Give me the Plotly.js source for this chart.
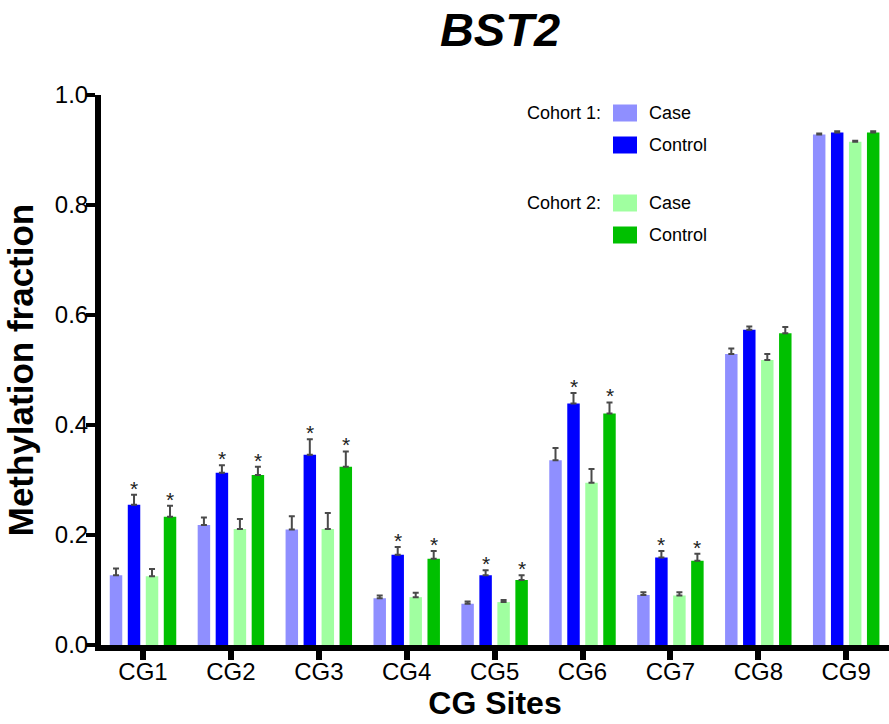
<!DOCTYPE html>
<html>
<head>
<meta charset="utf-8">
<script src="https://cdn.plot.ly/plotly-3.0.1.min.js"></script>
<style>html,body{margin:0;padding:0;background:#fff;}#chart{width:889px;height:724px;}</style>
</head>
<body>
<div id="chart"></div>
<script>
// ---- data ----
const categories = ["CG1","CG2","CG3","CG4","CG5","CG6","CG7","CG8","CG9"];
const seriesNames = ["Case","Control","Case","Control"];
const cohortLabels = ["Cohort 1:","Cohort 2:"];
const cohort1Case      = [0.127, 0.218, 0.210, 0.085, 0.075, 0.336, 0.091, 0.529, 0.928];
const cohort1CaseErr   = [0.012, 0.014, 0.024, 0.005, 0.004, 0.022, 0.005, 0.010, 0.002];
const cohort1Control   = [0.255, 0.313, 0.346, 0.164, 0.127, 0.439, 0.159, 0.573, 0.932];
const cohort1ControlErr= [0.018, 0.014, 0.028, 0.014, 0.009, 0.019, 0.012, 0.006, 0.002];
const cohort2Case      = [0.125, 0.211, 0.211, 0.087, 0.078, 0.295, 0.090, 0.518, 0.915];
const cohort2CaseErr   = [0.013, 0.018, 0.029, 0.008, 0.004, 0.025, 0.006, 0.011, 0.002];
const cohort2Control   = [0.233, 0.309, 0.324, 0.157, 0.118, 0.421, 0.153, 0.567, 0.932];
const cohort2ControlErr= [0.020, 0.015, 0.028, 0.014, 0.009, 0.020, 0.013, 0.011, 0.002];
const significant = [true, true, true, true, true, true, true, false, false];
const yTicks = [0, 0.2, 0.4, 0.6, 0.8, 1.0];
const colors = ["#8F8FFF", "#0000FF", "#A0FFA0", "#00C000"];

// ---- layout geometry ----
const FONT = "Liberation Sans, Arial, Helvetica, sans-serif";
const W = 889, H = 724;
const M = {l: 101, r: 0, t: 95, b: 79};
const PW = W - M.l - M.r, PH = H - M.t - M.b;
const BARGAP = 0.181, BARGROUPGAP = 0.307;
const slot = (1 - BARGAP) / 4;

const values = [cohort1Case, cohort1Control, cohort2Case, cohort2Control];
const errs = [cohort1CaseErr, cohort1ControlErr, cohort2CaseErr, cohort2ControlErr];

const traces = values.map((v, k) => ({
  type: "bar",
  x: categories,
  y: v,
  name: seriesNames[k],
  marker: {color: colors[k], line: {width: 0}},
  error_y: {type: "data", symmetric: false, array: errs[k], arrayminus: v.map(() => 0),
            color: "#4a4a4a", thickness: 2, width: 3},
  showlegend: false,
  hoverinfo: "x+y"
}));

// significance stars above control bars (traces 1 and 3)
const annotations = [];
[1, 3].forEach(k => {
  categories.forEach((c, i) => {
    if (!significant[i]) return;
    annotations.push({
      xref: "x", yref: "y",
      x: i + (k - 1.5) * slot,
      y: values[k][i] + errs[k][i],
      text: "*", showarrow: false,
      yanchor: "bottom", xanchor: "center", yshift: -7,
      font: {family: FONT, size: 21, color: "#222"}
    });
  });
});

// custom legend (paper coords derived from pixel layout)
const px = x => (x - M.l) / PW;
const py = y => (H - M.b - y) / PH;
const legendRows = [113, 145, 203, 235];
const shapes = [];
legendRows.forEach((ry, k) => {
  shapes.push({type: "rect", xref: "paper", yref: "paper",
    x0: px(613), x1: px(637), y0: py(ry + 8.5), y1: py(ry - 8.5),
    fillcolor: colors[k], line: {width: 0}});
  annotations.push({xref: "paper", yref: "paper", x: px(647), y: py(ry),
    xanchor: "left", yanchor: "middle", showarrow: false, text: seriesNames[k],
    font: {family: FONT, size: 18, color: "#000"}});
});
cohortLabels.forEach((t, j) => {
  annotations.push({xref: "paper", yref: "paper", x: px(603), y: py(legendRows[j * 2]),
    xanchor: "right", yanchor: "middle", showarrow: false, text: t,
    font: {family: FONT, size: 18, color: "#000"}});
});

const layout = {
  width: W, height: H,
  margin: M,
  paper_bgcolor: "#fff", plot_bgcolor: "#fff",
  barmode: "group", bargap: BARGAP, bargroupgap: BARGROUPGAP,
  font: {family: FONT, color: "#000"},
  title: {text: "<b><i>BST2</i></b>", font: {family: FONT, size: 47, color: "#000"},
          xref: "container", yref: "container", x: 500 / W, xanchor: "center",
          y: 1 - 30 / H, yanchor: "middle"},
  xaxis: {
    type: "category", range: [-0.478, 8.487],
    showline: true, linecolor: "#000", linewidth: 6,
    ticks: "outside", ticklen: 9, tickwidth: 6, tickcolor: "#000",
    ticklabelstandoff: -9,
    tickfont: {family: FONT, size: 24, color: "#000"},
    showgrid: false, zeroline: false,
    title: {text: "<b>CG Sites</b>", font: {family: FONT, size: 32, color: "#000"}, standoff: 6}
  },
  yaxis: {
    range: [0, 1.0], tickvals: yTicks, tickformat: ".1f",
    showline: true, linecolor: "#000", linewidth: 6,
    ticks: "outside", ticklen: 9, tickwidth: 4, tickcolor: "#000",
    ticklabelstandoff: -7,
    tickfont: {family: FONT, size: 24, color: "#000"},
    showgrid: false, zeroline: false,
    title: {text: "<b>Methylation fraction</b>", font: {family: FONT, size: 35, color: "#000"}, standoff: 13}
  },
  shapes: shapes,
  annotations: annotations
};

Plotly.newPlot("chart", traces, layout, {displayModeBar: false, staticPlot: true});
</script>
</body>
</html>
